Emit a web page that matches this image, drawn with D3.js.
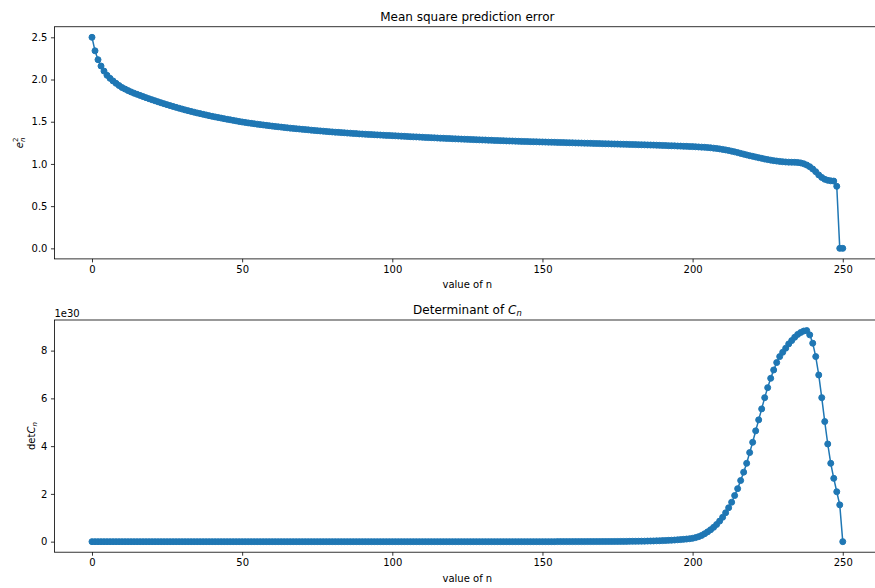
<!DOCTYPE html>
<html>
<head>
<meta charset="utf-8">
<script src="https://cdn.jsdelivr.net/npm/d3@7"></script>
<style>
  body { margin: 0; background: #fff; }
  text { font-family: "DejaVu Sans", sans-serif; fill: #000; }
</style>
</head>
<body>
<svg id="fig" width="875" height="588"></svg>
<script>
// Mean square prediction error e_n^2 for n = 0 .. 250
const msError = [
  2.500, 2.340, 2.235, 2.160, 2.100, 2.050, 2.014, 1.983, 1.955, 1.929,
  1.905, 1.887, 1.869, 1.853, 1.838, 1.825, 1.812, 1.798, 1.785, 1.772,
  1.760, 1.748, 1.736, 1.724, 1.713, 1.702, 1.691, 1.681, 1.670, 1.660,
  1.650, 1.640, 1.631, 1.622, 1.613, 1.604, 1.596, 1.588, 1.580, 1.572,
  1.564, 1.557, 1.550, 1.543, 1.536, 1.529, 1.523, 1.516, 1.510, 1.503,
  1.497, 1.492, 1.486, 1.481, 1.476, 1.471, 1.466, 1.462, 1.457, 1.453,
  1.448, 1.444, 1.440, 1.436, 1.432, 1.428, 1.424, 1.421, 1.417, 1.414,
  1.410, 1.407, 1.404, 1.400, 1.397, 1.394, 1.391, 1.388, 1.385, 1.382,
  1.379, 1.376, 1.374, 1.371, 1.369, 1.366, 1.364, 1.361, 1.359, 1.356,
  1.354, 1.352, 1.350, 1.348, 1.346, 1.344, 1.342, 1.340, 1.338, 1.337,
  1.335, 1.333, 1.331, 1.329, 1.327, 1.325, 1.323, 1.321, 1.320, 1.318,
  1.316, 1.314, 1.312, 1.311, 1.309, 1.307, 1.305, 1.304, 1.302, 1.301,
  1.299, 1.297, 1.296, 1.294, 1.293, 1.291, 1.290, 1.288, 1.287, 1.285,
  1.284, 1.283, 1.281, 1.280, 1.278, 1.277, 1.276, 1.275, 1.273, 1.272,
  1.271, 1.270, 1.268, 1.267, 1.266, 1.265, 1.264, 1.263, 1.262, 1.261,
  1.260, 1.259, 1.258, 1.257, 1.256, 1.255, 1.254, 1.253, 1.252, 1.251,
  1.250, 1.249, 1.248, 1.247, 1.246, 1.245, 1.244, 1.243, 1.242, 1.241,
  1.240, 1.239, 1.238, 1.237, 1.236, 1.235, 1.234, 1.233, 1.232, 1.231,
  1.230, 1.229, 1.228, 1.227, 1.226, 1.225, 1.224, 1.223, 1.222, 1.220,
  1.219, 1.218, 1.216, 1.215, 1.214, 1.212, 1.211, 1.209, 1.208, 1.206,
  1.205, 1.203, 1.201, 1.199, 1.197, 1.194, 1.191, 1.187, 1.183, 1.178,
  1.172, 1.166, 1.159, 1.151, 1.143, 1.134, 1.125, 1.116, 1.107, 1.098,
  1.090, 1.082, 1.074, 1.066, 1.058, 1.051, 1.045, 1.039, 1.034, 1.030,
  1.026, 1.023, 1.021, 1.020, 1.019, 1.017, 1.012, 1.002, 0.987, 0.967,
  0.940, 0.908, 0.870, 0.840, 0.818, 0.806, 0.800, 0.797, 0.735, 0.000,
  0.000
];

// Determinant of C_n for n = 0 .. 250, in units of 1e30
const detCn = [
  0, 0, 0, 0, 0, 0, 0, 0, 0, 0,
  0, 0, 0, 0, 0, 0, 0, 0, 0, 0,
  0, 0, 0, 0, 0, 0, 0, 0, 0, 0,
  0, 0, 0, 0, 0, 0, 0, 0, 0, 0,
  0, 0, 0, 0, 0, 0, 0, 0, 0, 0,
  0, 0, 0, 0, 0, 0, 0, 0, 0, 0,
  0, 0, 0, 0, 0, 0, 0, 0, 0, 0,
  0, 0, 0, 0, 0, 0, 0, 0, 0, 0,
  0, 0, 0, 0, 0, 0, 0, 0, 0, 0,
  0, 0, 0, 0, 0, 0, 0, 0, 0, 0,
  0, 0, 0, 0, 0, 0, 0, 0, 0, 0,
  0, 0, 0, 0, 0, 0, 0, 0, 0, 0,
  0, 0, 0, 0, 0, 0, 0, 0, 0, 0,
  0, 0, 0, 0, 0, 0, 0, 0, 0, 0,
  0, 0, 0, 0, 0, 0, 0, 0, 0, 0,
  0.000, 0.000, 0.000, 0.000, 0.000, 0.001, 0.001, 0.001, 0.001, 0.001,
  0.001, 0.002, 0.002, 0.002, 0.002, 0.003, 0.003, 0.003, 0.004, 0.004,
  0.005, 0.005, 0.006, 0.006, 0.007, 0.008, 0.009, 0.010, 0.011, 0.012,
  0.014, 0.015, 0.017, 0.019, 0.021, 0.024, 0.027, 0.030, 0.034, 0.038,
  0.043, 0.048, 0.054, 0.061, 0.068, 0.077, 0.086, 0.097, 0.109, 0.123,
  0.14, 0.17, 0.21, 0.26, 0.33, 0.41, 0.50, 0.60, 0.72, 0.86,
  1.02, 1.21, 1.42, 1.65, 1.93, 2.22, 2.56, 2.91, 3.28, 3.73,
  4.16, 4.64, 5.10, 5.56, 6.03, 6.45, 6.84, 7.19, 7.50, 7.75,
  7.93, 8.10, 8.28, 8.42, 8.56, 8.68, 8.76, 8.82, 8.84, 8.66,
  8.31, 7.75, 6.98, 6.03, 5.03, 4.09, 3.28, 2.65, 2.09, 1.54,
  0.00
];

const xTicks = [0, 50, 100, 150, 200, 250];
const errTicks = [0, 0.5, 1.0, 1.5, 2.0, 2.5];
const detTicks = [0, 2, 4, 6, 8];
const detOffsetLabel = "1e30";

const svg = d3.select("#fig");
const blue = "#1f77b4";
const axLeft = 54.46, axRight = 880.3;
const cx = (axLeft + axRight) / 2;

// matplotlib-style 5% data margins
function padded(lo, hi) {
  const m = (hi - lo) * 0.05;
  return [lo - m, hi + m];
}

function drawPanel(values, top, bottom, yTicks, yFmt) {
  const g = svg.append("g");
  const x = d3.scaleLinear().domain(padded(0, values.length - 1)).range([axLeft, axRight]);
  const y = d3.scaleLinear().domain(padded(d3.min(values), d3.max(values))).range([bottom, top]);

  const line = d3.line().x((d, i) => x(i)).y(d => y(d));
  g.append("path").datum(values)
    .attr("d", line).attr("fill", "none")
    .attr("stroke", blue).attr("stroke-width", 1.5).attr("stroke-linejoin", "round");

  g.append("g").selectAll("circle").data(values).join("circle")
    .attr("cx", (d, i) => x(i)).attr("cy", d => y(d)).attr("r", 3)
    .attr("fill", blue).attr("stroke", blue).attr("stroke-width", 1);

  const xa = g.append("g").attr("transform", `translate(0,${bottom})`)
    .call(d3.axisBottom(x).tickValues(xTicks).tickSize(3.5).tickPadding(3.5).tickFormat(d3.format("d")));
  const ya = g.append("g").attr("transform", `translate(${axLeft},0)`)
    .call(d3.axisLeft(y).tickValues(yTicks).tickSize(3.5).tickPadding(3.5).tickFormat(yFmt));
  [xa, ya].forEach(a => {
    a.select(".domain").remove();
    a.selectAll("line").attr("stroke", "#000").attr("stroke-width", 0.8);
    a.selectAll("text").attr("font-family", "DejaVu Sans").attr("font-size", 10).attr("fill", "#000");
  });

  g.append("rect").attr("x", axLeft).attr("y", top)
    .attr("width", axRight - axLeft).attr("height", bottom - top)
    .attr("fill", "none").attr("stroke", "#000").attr("stroke-width", 0.8);

  g.append("text").attr("x", cx).attr("y", bottom + 29.3)
    .attr("text-anchor", "middle").attr("font-size", 10).text("value of n");
  return g;
}

// Top panel: mean square prediction error
const top1 = 26.75, bot1 = 258.9;
drawPanel(msError, top1, bot1, errTicks, d3.format(".1f"));
svg.append("text").attr("x", cx).attr("y", top1 - 6)
  .attr("text-anchor", "middle").attr("font-size", 12).text("Mean square prediction error");

const yl1 = svg.append("g").attr("transform", `translate(22.5,${(top1 + bot1) / 2}) rotate(-90)`);
yl1.append("text").attr("x", -5.4).attr("y", 0).attr("font-size", 10).attr("font-style", "italic").text("e");
yl1.append("text").attr("x", 0.9).attr("y", -4.2).attr("font-size", 7).text("2");
yl1.append("text").attr("x", 0.9).attr("y", 2.2).attr("font-size", 7).attr("font-style", "italic").text("n");

// Bottom panel: determinant of C_n
const top2 = 320, bot2 = 552.2;
drawPanel(detCn, top2, bot2, detTicks, d3.format("d"));

const t2 = svg.append("text").attr("x", cx).attr("y", top2 - 6)
  .attr("text-anchor", "middle").attr("font-size", 12);
t2.append("tspan").text("Determinant of ");
t2.append("tspan").attr("font-style", "italic").text("C");
t2.append("tspan").attr("font-style", "italic").attr("font-size", 8.4).attr("dy", 2).text("n");

svg.append("text").attr("x", axLeft).attr("y", top2 - 3)
  .attr("font-size", 10).text(detOffsetLabel);

const yl2 = svg.append("text").attr("transform", `translate(35,${(top2 + bot2) / 2}) rotate(-90)`)
  .attr("text-anchor", "middle").attr("font-size", 10);
yl2.append("tspan").text("det");
yl2.append("tspan").attr("font-style", "italic").text("C");
yl2.append("tspan").attr("font-style", "italic").attr("font-size", 7).attr("dy", 1.8).text("n");
</script>
</body>
</html>
